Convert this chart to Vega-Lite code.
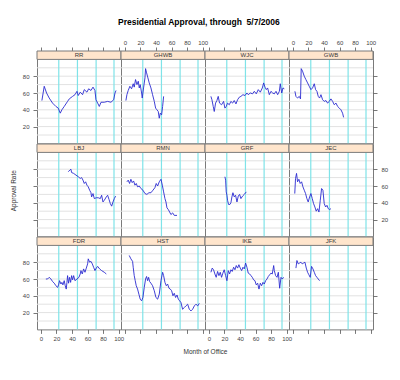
{
"$schema": "https://vega.github.io/schema/vega-lite/v6.json",
"background": "white",
"padding": {"left": 9, "top": 18, "right": 5, "bottom": 5},
"title": {"text": "Presidential Approval, through\u00a0 5/7/2006", "font": "Liberation Sans", "fontSize": 8.5, "fontWeight": "bold", "color": "#000", "anchor": "middle", "offset": 12},
"datasets": {
"hgrid": [{"g":10},{"g":20},{"g":30},{"g":40},{"g":50},{"g":60},{"g":70},{"g":80},{"g":90}],
"vgrid": [{"m":23},{"m":47},{"m":71},{"m":94}],
"approval": [
{"p":"RR","m":1.3,"v":51},{"p":"RR","m":4.3,"v":68},{"p":"RR","m":7.3,"v":60},{"p":"RR","m":10.7,"v":54},{"p":"RR","m":15,"v":48},{"p":"RR","m":19.3,"v":44},{"p":"RR","m":22.3,"v":42},{"p":"RR","m":24.9,"v":36},{"p":"RR","m":27,"v":40},{"p":"RR","m":30,"v":44},{"p":"RR","m":34.3,"v":50},{"p":"RR","m":36.5,"v":53},{"p":"RR","m":40.8,"v":56},{"p":"RR","m":43.8,"v":58},{"p":"RR","m":46.4,"v":62},{"p":"RR","m":48,"v":57},{"p":"RR","m":50.6,"v":61},{"p":"RR","m":53.6,"v":58},{"p":"RR","m":55.8,"v":64},{"p":"RR","m":59.2,"v":61},{"p":"RR","m":61.4,"v":65},{"p":"RR","m":64.4,"v":63},{"p":"RR","m":67,"v":67},{"p":"RR","m":69.5,"v":63},{"p":"RR","m":70.8,"v":52},{"p":"RR","m":73,"v":48},{"p":"RR","m":75.1,"v":44},{"p":"RR","m":77.3,"v":49},{"p":"RR","m":81.5,"v":49},{"p":"RR","m":85.8,"v":50},{"p":"RR","m":90.1,"v":49},{"p":"RR","m":93.6,"v":52},{"p":"RR","m":95.3,"v":60},{"p":"RR","m":96.6,"v":63},
{"p":"GHWB","m":1.3,"v":51},{"p":"GHWB","m":2.6,"v":58},{"p":"GHWB","m":4.3,"v":63},{"p":"GHWB","m":6.4,"v":68},{"p":"GHWB","m":8.6,"v":65},{"p":"GHWB","m":10.7,"v":71},{"p":"GHWB","m":12,"v":67},{"p":"GHWB","m":13.7,"v":76},{"p":"GHWB","m":15.5,"v":70},{"p":"GHWB","m":17.2,"v":74},{"p":"GHWB","m":18.5,"v":66},{"p":"GHWB","m":19.7,"v":70},{"p":"GHWB","m":21.5,"v":60},{"p":"GHWB","m":22.3,"v":54},{"p":"GHWB","m":24,"v":66},{"p":"GHWB","m":25.8,"v":78},{"p":"GHWB","m":26.6,"v":89},{"p":"GHWB","m":27.9,"v":84},{"p":"GHWB","m":29.6,"v":78},{"p":"GHWB","m":31.3,"v":72},{"p":"GHWB","m":33.5,"v":66},{"p":"GHWB","m":35.6,"v":58},{"p":"GHWB","m":37.8,"v":50},{"p":"GHWB","m":39.5,"v":42},{"p":"GHWB","m":41.2,"v":40},{"p":"GHWB","m":42.9,"v":38},{"p":"GHWB","m":44.2,"v":30},{"p":"GHWB","m":45.5,"v":36},{"p":"GHWB","m":47.2,"v":34},{"p":"GHWB","m":48.5,"v":44},{"p":"GHWB","m":49.8,"v":56},
{"p":"WJC","m":2.6,"v":56},{"p":"WJC","m":3.9,"v":52},{"p":"WJC","m":5.6,"v":44},{"p":"WJC","m":6.9,"v":38},{"p":"WJC","m":8.6,"v":48},{"p":"WJC","m":10.3,"v":51},{"p":"WJC","m":12,"v":56},{"p":"WJC","m":13.7,"v":48},{"p":"WJC","m":16.3,"v":46},{"p":"WJC","m":18.9,"v":50},{"p":"WJC","m":20.6,"v":42},{"p":"WJC","m":22.3,"v":44},{"p":"WJC","m":24,"v":48},{"p":"WJC","m":26.2,"v":46},{"p":"WJC","m":28.3,"v":50},{"p":"WJC","m":30.5,"v":48},{"p":"WJC","m":32.6,"v":51},{"p":"WJC","m":34.8,"v":47},{"p":"WJC","m":36.9,"v":52},{"p":"WJC","m":39.1,"v":55},{"p":"WJC","m":41.2,"v":56},{"p":"WJC","m":43.8,"v":58},{"p":"WJC","m":46.4,"v":57},{"p":"WJC","m":48.9,"v":60},{"p":"WJC","m":50.6,"v":58},{"p":"WJC","m":53.2,"v":60},{"p":"WJC","m":56.2,"v":59},{"p":"WJC","m":58.4,"v":62},{"p":"WJC","m":60.9,"v":59},{"p":"WJC","m":63.5,"v":64},{"p":"WJC","m":66.1,"v":61},{"p":"WJC","m":68.7,"v":66},{"p":"WJC","m":70.4,"v":72},{"p":"WJC","m":72.1,"v":67},{"p":"WJC","m":73.8,"v":64},{"p":"WJC","m":75.5,"v":66},{"p":"WJC","m":77.7,"v":58},{"p":"WJC","m":79.8,"v":62},{"p":"WJC","m":82,"v":60},{"p":"WJC","m":84.1,"v":59},{"p":"WJC","m":86.3,"v":62},{"p":"WJC","m":88.4,"v":58},{"p":"WJC","m":90.6,"v":62},{"p":"WJC","m":91.8,"v":71},{"p":"WJC","m":93.6,"v":60},{"p":"WJC","m":95.3,"v":66},{"p":"WJC","m":97,"v":65},
{"p":"GWB","m":2.6,"v":62},{"p":"GWB","m":3.9,"v":56},{"p":"GWB","m":6,"v":54},{"p":"GWB","m":8.2,"v":56},{"p":"GWB","m":9.8,"v":53},{"p":"GWB","m":10.7,"v":89},{"p":"GWB","m":12.4,"v":86},{"p":"GWB","m":14.6,"v":80},{"p":"GWB","m":16.7,"v":76},{"p":"GWB","m":18.9,"v":72},{"p":"GWB","m":21,"v":68},{"p":"GWB","m":23.2,"v":64},{"p":"GWB","m":25.3,"v":66},{"p":"GWB","m":27.5,"v":71},{"p":"GWB","m":29.2,"v":64},{"p":"GWB","m":30.9,"v":62},{"p":"GWB","m":32.6,"v":56},{"p":"GWB","m":34.3,"v":54},{"p":"GWB","m":36.1,"v":58},{"p":"GWB","m":38.2,"v":52},{"p":"GWB","m":40.3,"v":50},{"p":"GWB","m":42.5,"v":51},{"p":"GWB","m":44.6,"v":48},{"p":"GWB","m":46.8,"v":50},{"p":"GWB","m":48.9,"v":53},{"p":"GWB","m":51.1,"v":50},{"p":"GWB","m":53.2,"v":46},{"p":"GWB","m":55.4,"v":48},{"p":"GWB","m":57.5,"v":44},{"p":"GWB","m":59.7,"v":42},{"p":"GWB","m":61.8,"v":40},{"p":"GWB","m":63.9,"v":36},{"p":"GWB","m":65.2,"v":31},
{"p":"LBJ","m":35.2,"v":77},{"p":"LBJ","m":37.3,"v":79},{"p":"LBJ","m":38.6,"v":80},{"p":"LBJ","m":39.5,"v":76},{"p":"LBJ","m":42.1,"v":75},{"p":"LBJ","m":45.1,"v":73},{"p":"LBJ","m":48.1,"v":71},{"p":"LBJ","m":50.6,"v":69},{"p":"LBJ","m":52.4,"v":70},{"p":"LBJ","m":54.1,"v":67},{"p":"LBJ","m":55.8,"v":63},{"p":"LBJ","m":57.5,"v":65},{"p":"LBJ","m":59.2,"v":61},{"p":"LBJ","m":60.9,"v":59},{"p":"LBJ","m":62.7,"v":55},{"p":"LBJ","m":64.4,"v":52},{"p":"LBJ","m":65.2,"v":47},{"p":"LBJ","m":67,"v":51},{"p":"LBJ","m":68.7,"v":45},{"p":"LBJ","m":71.2,"v":46},{"p":"LBJ","m":73.8,"v":46},{"p":"LBJ","m":76.4,"v":45},{"p":"LBJ","m":78.1,"v":49},{"p":"LBJ","m":79.8,"v":41},{"p":"LBJ","m":81.5,"v":43},{"p":"LBJ","m":84.1,"v":47},{"p":"LBJ","m":85.8,"v":49},{"p":"LBJ","m":87.6,"v":44},{"p":"LBJ","m":89.3,"v":39},{"p":"LBJ","m":91,"v":36},{"p":"LBJ","m":92.7,"v":41},{"p":"LBJ","m":94.4,"v":45},{"p":"LBJ","m":96.1,"v":48},
{"p":"RMN","m":2.6,"v":65},{"p":"RMN","m":4.3,"v":67},{"p":"RMN","m":6,"v":63},{"p":"RMN","m":7.7,"v":68},{"p":"RMN","m":9.4,"v":64},{"p":"RMN","m":11.2,"v":66},{"p":"RMN","m":12.9,"v":61},{"p":"RMN","m":14.6,"v":63},{"p":"RMN","m":16.3,"v":59},{"p":"RMN","m":18.5,"v":60},{"p":"RMN","m":20.6,"v":57},{"p":"RMN","m":23.2,"v":55},{"p":"RMN","m":25.8,"v":51},{"p":"RMN","m":28.3,"v":50},{"p":"RMN","m":30.9,"v":52},{"p":"RMN","m":33.5,"v":52},{"p":"RMN","m":36.1,"v":55},{"p":"RMN","m":38.6,"v":58},{"p":"RMN","m":40.3,"v":63},{"p":"RMN","m":42.1,"v":60},{"p":"RMN","m":44.2,"v":65},{"p":"RMN","m":46.4,"v":68},{"p":"RMN","m":48.1,"v":61},{"p":"RMN","m":49.8,"v":53},{"p":"RMN","m":51.5,"v":45},{"p":"RMN","m":52.8,"v":41},{"p":"RMN","m":54.1,"v":34},{"p":"RMN","m":55.8,"v":32},{"p":"RMN","m":57.5,"v":29},{"p":"RMN","m":59.2,"v":26},{"p":"RMN","m":61.4,"v":28},{"p":"RMN","m":63.5,"v":25},{"p":"RMN","m":67,"v":25},
{"p":"GRF","m":20.6,"v":71},{"p":"GRF","m":21.5,"v":67},{"p":"GRF","m":22.3,"v":53},{"p":"GRF","m":23.2,"v":49},{"p":"GRF","m":24,"v":43},{"p":"GRF","m":25.3,"v":38},{"p":"GRF","m":27,"v":38},{"p":"GRF","m":28.3,"v":40},{"p":"GRF","m":29.6,"v":47},{"p":"GRF","m":30.9,"v":52},{"p":"GRF","m":32.6,"v":47},{"p":"GRF","m":34.3,"v":49},{"p":"GRF","m":36.1,"v":41},{"p":"GRF","m":37.8,"v":48},{"p":"GRF","m":39.5,"v":50},{"p":"GRF","m":41.2,"v":45},{"p":"GRF","m":43.3,"v":48},{"p":"GRF","m":45.5,"v":50},{"p":"GRF","m":48.1,"v":53},
{"p":"JEC","m":2.4,"v":51},{"p":"JEC","m":3.4,"v":69},{"p":"JEC","m":4.7,"v":75},{"p":"JEC","m":6,"v":65},{"p":"JEC","m":7.7,"v":68},{"p":"JEC","m":9.4,"v":63},{"p":"JEC","m":11.2,"v":65},{"p":"JEC","m":12.9,"v":59},{"p":"JEC","m":14.6,"v":55},{"p":"JEC","m":16.3,"v":51},{"p":"JEC","m":18,"v":45},{"p":"JEC","m":19.7,"v":41},{"p":"JEC","m":21.5,"v":47},{"p":"JEC","m":23.2,"v":51},{"p":"JEC","m":24.9,"v":45},{"p":"JEC","m":26.6,"v":39},{"p":"JEC","m":28.3,"v":35},{"p":"JEC","m":30,"v":30},{"p":"JEC","m":31.8,"v":33},{"p":"JEC","m":33.5,"v":29},{"p":"JEC","m":35.2,"v":43},{"p":"JEC","m":36.9,"v":57},{"p":"JEC","m":38.6,"v":55},{"p":"JEC","m":40.3,"v":39},{"p":"JEC","m":42.1,"v":35},{"p":"JEC","m":43.8,"v":37},{"p":"JEC","m":45.5,"v":33},{"p":"JEC","m":47.2,"v":32},{"p":"JEC","m":48.9,"v":33},
{"p":"FDR","m":6.4,"v":60},{"p":"FDR","m":8.6,"v":60},{"p":"FDR","m":10.7,"v":62},{"p":"FDR","m":12.9,"v":60},{"p":"FDR","m":15,"v":57},{"p":"FDR","m":17.2,"v":55},{"p":"FDR","m":19.3,"v":52},{"p":"FDR","m":21.5,"v":50},{"p":"FDR","m":22.7,"v":53},{"p":"FDR","m":24,"v":58},{"p":"FDR","m":25.8,"v":54},{"p":"FDR","m":27,"v":56},{"p":"FDR","m":28.3,"v":53},{"p":"FDR","m":30,"v":58},{"p":"FDR","m":31.3,"v":52},{"p":"FDR","m":32.6,"v":48},{"p":"FDR","m":33.5,"v":56},{"p":"FDR","m":34.3,"v":64},{"p":"FDR","m":35.6,"v":55},{"p":"FDR","m":36.9,"v":62},{"p":"FDR","m":38.2,"v":56},{"p":"FDR","m":39.5,"v":64},{"p":"FDR","m":40.8,"v":59},{"p":"FDR","m":42.1,"v":64},{"p":"FDR","m":43.8,"v":58},{"p":"FDR","m":46.4,"v":60},{"p":"FDR","m":48.9,"v":62},{"p":"FDR","m":50.6,"v":66},{"p":"FDR","m":51.5,"v":70},{"p":"FDR","m":53.2,"v":66},{"p":"FDR","m":54.9,"v":72},{"p":"FDR","m":56.7,"v":68},{"p":"FDR","m":58.4,"v":73},{"p":"FDR","m":60.1,"v":78},{"p":"FDR","m":60.9,"v":84},{"p":"FDR","m":62.7,"v":80},{"p":"FDR","m":64.4,"v":81},{"p":"FDR","m":66.1,"v":78},{"p":"FDR","m":67.8,"v":74},{"p":"FDR","m":69.5,"v":70},{"p":"FDR","m":71.2,"v":73},{"p":"FDR","m":73,"v":75},{"p":"FDR","m":75.5,"v":72},{"p":"FDR","m":78.1,"v":70},{"p":"FDR","m":81.5,"v":68},{"p":"FDR","m":84.1,"v":66},
{"p":"HST","m":5.6,"v":88},{"p":"HST","m":7.7,"v":84},{"p":"HST","m":9.9,"v":81},{"p":"HST","m":10.7,"v":74},{"p":"HST","m":12,"v":64},{"p":"HST","m":13.3,"v":58},{"p":"HST","m":14.6,"v":52},{"p":"HST","m":16.3,"v":48},{"p":"HST","m":18,"v":42},{"p":"HST","m":19.7,"v":36},{"p":"HST","m":21.5,"v":34},{"p":"HST","m":23.2,"v":38},{"p":"HST","m":24.9,"v":50},{"p":"HST","m":26.6,"v":60},{"p":"HST","m":27.9,"v":63},{"p":"HST","m":29.2,"v":58},{"p":"HST","m":30.5,"v":62},{"p":"HST","m":31.8,"v":57},{"p":"HST","m":33.5,"v":55},{"p":"HST","m":35.6,"v":52},{"p":"HST","m":37.8,"v":46},{"p":"HST","m":39.9,"v":38},{"p":"HST","m":42.1,"v":36},{"p":"HST","m":44.2,"v":42},{"p":"HST","m":46.4,"v":58},{"p":"HST","m":48.5,"v":68},{"p":"HST","m":49.8,"v":64},{"p":"HST","m":51.5,"v":56},{"p":"HST","m":53.2,"v":52},{"p":"HST","m":54.9,"v":54},{"p":"HST","m":56.7,"v":49},{"p":"HST","m":58.4,"v":48},{"p":"HST","m":60.1,"v":46},{"p":"HST","m":61.8,"v":40},{"p":"HST","m":63.5,"v":43},{"p":"HST","m":65.2,"v":38},{"p":"HST","m":67,"v":41},{"p":"HST","m":68.7,"v":36},{"p":"HST","m":70.4,"v":34},{"p":"HST","m":72.1,"v":32},{"p":"HST","m":74.2,"v":24},{"p":"HST","m":76.4,"v":26},{"p":"HST","m":78.5,"v":28},{"p":"HST","m":80.7,"v":30},{"p":"HST","m":82.8,"v":24},{"p":"HST","m":85,"v":22},{"p":"HST","m":87.1,"v":24},{"p":"HST","m":89.3,"v":28},{"p":"HST","m":91.4,"v":30},{"p":"HST","m":93.6,"v":28},{"p":"HST","m":95.7,"v":31},
{"p":"IKE","m":2.6,"v":68},{"p":"IKE","m":4.3,"v":73},{"p":"IKE","m":6,"v":71},{"p":"IKE","m":7.7,"v":66},{"p":"IKE","m":9.4,"v":62},{"p":"IKE","m":11.2,"v":69},{"p":"IKE","m":12.9,"v":64},{"p":"IKE","m":14.6,"v":68},{"p":"IKE","m":16.3,"v":62},{"p":"IKE","m":18,"v":67},{"p":"IKE","m":19.7,"v":71},{"p":"IKE","m":21.5,"v":64},{"p":"IKE","m":23.2,"v":58},{"p":"IKE","m":24.9,"v":70},{"p":"IKE","m":26.6,"v":66},{"p":"IKE","m":28.3,"v":71},{"p":"IKE","m":30,"v":69},{"p":"IKE","m":31.8,"v":74},{"p":"IKE","m":33.5,"v":71},{"p":"IKE","m":35.2,"v":76},{"p":"IKE","m":36.9,"v":73},{"p":"IKE","m":38.6,"v":77},{"p":"IKE","m":40.3,"v":73},{"p":"IKE","m":42.1,"v":70},{"p":"IKE","m":43.8,"v":74},{"p":"IKE","m":45.5,"v":72},{"p":"IKE","m":47.2,"v":79},{"p":"IKE","m":48.9,"v":74},{"p":"IKE","m":50.6,"v":67},{"p":"IKE","m":52.4,"v":66},{"p":"IKE","m":54.1,"v":64},{"p":"IKE","m":55.8,"v":62},{"p":"IKE","m":57.5,"v":59},{"p":"IKE","m":59.2,"v":58},{"p":"IKE","m":60.9,"v":53},{"p":"IKE","m":62.7,"v":55},{"p":"IKE","m":64.4,"v":48},{"p":"IKE","m":66.1,"v":55},{"p":"IKE","m":67.8,"v":52},{"p":"IKE","m":69.5,"v":56},{"p":"IKE","m":71.2,"v":54},{"p":"IKE","m":73,"v":58},{"p":"IKE","m":74.7,"v":60},{"p":"IKE","m":76.4,"v":63},{"p":"IKE","m":78.1,"v":65},{"p":"IKE","m":79.8,"v":67},{"p":"IKE","m":81.5,"v":66},{"p":"IKE","m":83.3,"v":76},{"p":"IKE","m":84.1,"v":70},{"p":"IKE","m":85.8,"v":64},{"p":"IKE","m":87.6,"v":62},{"p":"IKE","m":89.3,"v":68},{"p":"IKE","m":91,"v":49},{"p":"IKE","m":92.7,"v":62},{"p":"IKE","m":94.4,"v":60},{"p":"IKE","m":96.1,"v":62},
{"p":"JFK","m":3.9,"v":73},{"p":"JFK","m":5.2,"v":82},{"p":"JFK","m":6.9,"v":78},{"p":"JFK","m":8.6,"v":79},{"p":"JFK","m":10.3,"v":80},{"p":"JFK","m":12,"v":78},{"p":"JFK","m":13.7,"v":79},{"p":"JFK","m":15.5,"v":80},{"p":"JFK","m":17.2,"v":73},{"p":"JFK","m":18.9,"v":68},{"p":"JFK","m":20.6,"v":65},{"p":"JFK","m":22.3,"v":62},{"p":"JFK","m":24,"v":75},{"p":"JFK","m":25.8,"v":72},{"p":"JFK","m":27.5,"v":68},{"p":"JFK","m":29.2,"v":64},{"p":"JFK","m":30.9,"v":62},{"p":"JFK","m":32.6,"v":60},{"p":"JFK","m":34.3,"v":58}
]
},
"columns": 4,
"spacing": 0,
"bounds": "flush",
"concat": [
{"width":84,"height":92.4,"resolve":{"axis":{"x":"independent","y":"independent"}},"layer":[
{"data":{"name":"hgrid"},"mark":{"type":"rule","color":"#e2e2e2","strokeWidth":1},"encoding":{"x":{"datum":-5,"type":"quantitative","scale":{"domain":[-5,103],"nice":false,"zero":false},"axis":null},"x2":{"datum":103},"y":{"field":"g","type":"quantitative","scale":{"domain":[0,110],"nice":false,"zero":false},"axis":null}}},
{"data":{"name":"vgrid"},"mark":{"type":"rule","color":"#7fe3e8","strokeWidth":1.2},"encoding":{"x":{"field":"m","type":"quantitative","scale":{"domain":[-5,103],"nice":false,"zero":false},"axis":null},"y":{"datum":0,"type":"quantitative","scale":{"domain":[0,110],"nice":false,"zero":false},"axis":null},"y2":{"datum":100}}},
{"data":{"name":"approval"},"transform":[{"filter":"datum.p==='RR'"}],"mark":{"type":"line","color":"#2a2ad0","strokeWidth":0.9},"encoding":{"x":{"field":"m","type":"quantitative","scale":{"domain":[-5,103],"nice":false,"zero":false},"axis":{"orient":"top","values":[0,20,40,60,80,100],"labels":false,"title":null}},"y":{"field":"v","type":"quantitative","scale":{"domain":[0,110],"nice":false,"zero":false},"axis":{"orient":"left","values":[20,40,60,80],"labels":true,"title":null}}}},
{"data":{"values":[{"p":"RR"}]},"mark":{"type":"rect","fill":"#ffe5cc","stroke":"#7a7a7a","strokeWidth":1},"encoding":{"x":{"datum":-5,"type":"quantitative","scale":{"domain":[-5,103],"nice":false,"zero":false},"axis":null},"x2":{"datum":103},"y":{"datum":100,"type":"quantitative","scale":{"domain":[0,110],"nice":false,"zero":false},"axis":null},"y2":{"datum":110}}},
{"data":{"values":[{"p":"RR"}]},"mark":{"type":"text","font":"Liberation Sans","fontSize":6,"color":"#3a3a3a","baseline":"middle"},"encoding":{"x":{"datum":49,"type":"quantitative","scale":{"domain":[-5,103],"nice":false,"zero":false},"axis":null},"y":{"datum":105,"type":"quantitative","scale":{"domain":[0,110],"nice":false,"zero":false},"axis":null},"text":{"field":"p"}}}
]},
{"width":84,"height":92.4,"resolve":{"axis":{"x":"independent","y":"independent"}},"layer":[
{"data":{"name":"hgrid"},"mark":{"type":"rule","color":"#e2e2e2","strokeWidth":1},"encoding":{"x":{"datum":-5,"type":"quantitative","scale":{"domain":[-5,103],"nice":false,"zero":false},"axis":null},"x2":{"datum":103},"y":{"field":"g","type":"quantitative","scale":{"domain":[0,110],"nice":false,"zero":false},"axis":null}}},
{"data":{"name":"vgrid"},"mark":{"type":"rule","color":"#7fe3e8","strokeWidth":1.2},"encoding":{"x":{"field":"m","type":"quantitative","scale":{"domain":[-5,103],"nice":false,"zero":false},"axis":null},"y":{"datum":0,"type":"quantitative","scale":{"domain":[0,110],"nice":false,"zero":false},"axis":null},"y2":{"datum":100}}},
{"data":{"name":"approval"},"transform":[{"filter":"datum.p==='GHWB'"}],"mark":{"type":"line","color":"#2a2ad0","strokeWidth":0.9},"encoding":{"x":{"field":"m","type":"quantitative","scale":{"domain":[-5,103],"nice":false,"zero":false},"axis":{"orient":"top","values":[0,20,40,60,80,100],"labels":true,"title":null}},"y":{"field":"v","type":"quantitative","scale":{"domain":[0,110],"nice":false,"zero":false},"axis":null}}},
{"data":{"values":[{"p":"GHWB"}]},"mark":{"type":"rect","fill":"#ffe5cc","stroke":"#7a7a7a","strokeWidth":1},"encoding":{"x":{"datum":-5,"type":"quantitative","scale":{"domain":[-5,103],"nice":false,"zero":false},"axis":null},"x2":{"datum":103},"y":{"datum":100,"type":"quantitative","scale":{"domain":[0,110],"nice":false,"zero":false},"axis":null},"y2":{"datum":110}}},
{"data":{"values":[{"p":"GHWB"}]},"mark":{"type":"text","font":"Liberation Sans","fontSize":6,"color":"#3a3a3a","baseline":"middle"},"encoding":{"x":{"datum":49,"type":"quantitative","scale":{"domain":[-5,103],"nice":false,"zero":false},"axis":null},"y":{"datum":105,"type":"quantitative","scale":{"domain":[0,110],"nice":false,"zero":false},"axis":null},"text":{"field":"p"}}}
]},
{"width":84,"height":92.4,"resolve":{"axis":{"x":"independent","y":"independent"}},"layer":[
{"data":{"name":"hgrid"},"mark":{"type":"rule","color":"#e2e2e2","strokeWidth":1},"encoding":{"x":{"datum":-5,"type":"quantitative","scale":{"domain":[-5,103],"nice":false,"zero":false},"axis":null},"x2":{"datum":103},"y":{"field":"g","type":"quantitative","scale":{"domain":[0,110],"nice":false,"zero":false},"axis":null}}},
{"data":{"name":"vgrid"},"mark":{"type":"rule","color":"#7fe3e8","strokeWidth":1.2},"encoding":{"x":{"field":"m","type":"quantitative","scale":{"domain":[-5,103],"nice":false,"zero":false},"axis":null},"y":{"datum":0,"type":"quantitative","scale":{"domain":[0,110],"nice":false,"zero":false},"axis":null},"y2":{"datum":100}}},
{"data":{"name":"approval"},"transform":[{"filter":"datum.p==='WJC'"}],"mark":{"type":"line","color":"#2a2ad0","strokeWidth":0.9},"encoding":{"x":{"field":"m","type":"quantitative","scale":{"domain":[-5,103],"nice":false,"zero":false},"axis":{"orient":"top","values":[0,20,40,60,80,100],"labels":false,"title":null}},"y":{"field":"v","type":"quantitative","scale":{"domain":[0,110],"nice":false,"zero":false},"axis":null}}},
{"data":{"values":[{"p":"WJC"}]},"mark":{"type":"rect","fill":"#ffe5cc","stroke":"#7a7a7a","strokeWidth":1},"encoding":{"x":{"datum":-5,"type":"quantitative","scale":{"domain":[-5,103],"nice":false,"zero":false},"axis":null},"x2":{"datum":103},"y":{"datum":100,"type":"quantitative","scale":{"domain":[0,110],"nice":false,"zero":false},"axis":null},"y2":{"datum":110}}},
{"data":{"values":[{"p":"WJC"}]},"mark":{"type":"text","font":"Liberation Sans","fontSize":6,"color":"#3a3a3a","baseline":"middle"},"encoding":{"x":{"datum":49,"type":"quantitative","scale":{"domain":[-5,103],"nice":false,"zero":false},"axis":null},"y":{"datum":105,"type":"quantitative","scale":{"domain":[0,110],"nice":false,"zero":false},"axis":null},"text":{"field":"p"}}}
]},
{"width":84,"height":92.4,"resolve":{"axis":{"x":"independent","y":"independent"}},"layer":[
{"data":{"name":"hgrid"},"mark":{"type":"rule","color":"#e2e2e2","strokeWidth":1},"encoding":{"x":{"datum":-5,"type":"quantitative","scale":{"domain":[-5,103],"nice":false,"zero":false},"axis":null},"x2":{"datum":103},"y":{"field":"g","type":"quantitative","scale":{"domain":[0,110],"nice":false,"zero":false},"axis":null}}},
{"data":{"name":"vgrid"},"mark":{"type":"rule","color":"#7fe3e8","strokeWidth":1.2},"encoding":{"x":{"field":"m","type":"quantitative","scale":{"domain":[-5,103],"nice":false,"zero":false},"axis":null},"y":{"datum":0,"type":"quantitative","scale":{"domain":[0,110],"nice":false,"zero":false},"axis":null},"y2":{"datum":100}}},
{"data":{"name":"approval"},"transform":[{"filter":"datum.p==='GWB'"}],"mark":{"type":"line","color":"#2a2ad0","strokeWidth":0.9},"encoding":{"x":{"field":"m","type":"quantitative","scale":{"domain":[-5,103],"nice":false,"zero":false},"axis":{"orient":"top","values":[0,20,40,60,80,100],"labels":true,"title":null}},"y":{"field":"v","type":"quantitative","scale":{"domain":[0,110],"nice":false,"zero":false},"axis":{"orient":"right","values":[20,40,60,80],"labels":false,"title":null}}}},
{"data":{"values":[{"p":"GWB"}]},"mark":{"type":"rect","fill":"#ffe5cc","stroke":"#7a7a7a","strokeWidth":1},"encoding":{"x":{"datum":-5,"type":"quantitative","scale":{"domain":[-5,103],"nice":false,"zero":false},"axis":null},"x2":{"datum":103},"y":{"datum":100,"type":"quantitative","scale":{"domain":[0,110],"nice":false,"zero":false},"axis":null},"y2":{"datum":110}}},
{"data":{"values":[{"p":"GWB"}]},"mark":{"type":"text","font":"Liberation Sans","fontSize":6,"color":"#3a3a3a","baseline":"middle"},"encoding":{"x":{"datum":49,"type":"quantitative","scale":{"domain":[-5,103],"nice":false,"zero":false},"axis":null},"y":{"datum":105,"type":"quantitative","scale":{"domain":[0,110],"nice":false,"zero":false},"axis":null},"text":{"field":"p"}}}
]},
{"width":84,"height":92.4,"resolve":{"axis":{"x":"independent","y":"independent"}},"layer":[
{"data":{"name":"hgrid"},"mark":{"type":"rule","color":"#e2e2e2","strokeWidth":1},"encoding":{"x":{"datum":-5,"type":"quantitative","scale":{"domain":[-5,103],"nice":false,"zero":false},"axis":null},"x2":{"datum":103},"y":{"field":"g","type":"quantitative","scale":{"domain":[0,110],"nice":false,"zero":false},"axis":null}}},
{"data":{"name":"vgrid"},"mark":{"type":"rule","color":"#7fe3e8","strokeWidth":1.2},"encoding":{"x":{"field":"m","type":"quantitative","scale":{"domain":[-5,103],"nice":false,"zero":false},"axis":null},"y":{"datum":0,"type":"quantitative","scale":{"domain":[0,110],"nice":false,"zero":false},"axis":null},"y2":{"datum":100}}},
{"data":{"name":"approval"},"transform":[{"filter":"datum.p==='LBJ'"}],"mark":{"type":"line","color":"#2a2ad0","strokeWidth":0.9},"encoding":{"x":{"field":"m","type":"quantitative","scale":{"domain":[-5,103],"nice":false,"zero":false},"axis":null},"y":{"field":"v","type":"quantitative","scale":{"domain":[0,110],"nice":false,"zero":false},"axis":{"orient":"left","values":[20,40,60,80],"labels":false,"title":"Approval Rate","titleX":-24,"titleBaseline":"middle","titleAngle":-90}}}},
{"data":{"values":[{"p":"LBJ"}]},"mark":{"type":"rect","fill":"#ffe5cc","stroke":"#7a7a7a","strokeWidth":1},"encoding":{"x":{"datum":-5,"type":"quantitative","scale":{"domain":[-5,103],"nice":false,"zero":false},"axis":null},"x2":{"datum":103},"y":{"datum":100,"type":"quantitative","scale":{"domain":[0,110],"nice":false,"zero":false},"axis":null},"y2":{"datum":110}}},
{"data":{"values":[{"p":"LBJ"}]},"mark":{"type":"text","font":"Liberation Sans","fontSize":6,"color":"#3a3a3a","baseline":"middle"},"encoding":{"x":{"datum":49,"type":"quantitative","scale":{"domain":[-5,103],"nice":false,"zero":false},"axis":null},"y":{"datum":105,"type":"quantitative","scale":{"domain":[0,110],"nice":false,"zero":false},"axis":null},"text":{"field":"p"}}}
]},
{"width":84,"height":92.4,"resolve":{"axis":{"x":"independent","y":"independent"}},"layer":[
{"data":{"name":"hgrid"},"mark":{"type":"rule","color":"#e2e2e2","strokeWidth":1},"encoding":{"x":{"datum":-5,"type":"quantitative","scale":{"domain":[-5,103],"nice":false,"zero":false},"axis":null},"x2":{"datum":103},"y":{"field":"g","type":"quantitative","scale":{"domain":[0,110],"nice":false,"zero":false},"axis":null}}},
{"data":{"name":"vgrid"},"mark":{"type":"rule","color":"#7fe3e8","strokeWidth":1.2},"encoding":{"x":{"field":"m","type":"quantitative","scale":{"domain":[-5,103],"nice":false,"zero":false},"axis":null},"y":{"datum":0,"type":"quantitative","scale":{"domain":[0,110],"nice":false,"zero":false},"axis":null},"y2":{"datum":100}}},
{"data":{"name":"approval"},"transform":[{"filter":"datum.p==='RMN'"}],"mark":{"type":"line","color":"#2a2ad0","strokeWidth":0.9},"encoding":{"x":{"field":"m","type":"quantitative","scale":{"domain":[-5,103],"nice":false,"zero":false},"axis":null},"y":{"field":"v","type":"quantitative","scale":{"domain":[0,110],"nice":false,"zero":false},"axis":null}}},
{"data":{"values":[{"p":"RMN"}]},"mark":{"type":"rect","fill":"#ffe5cc","stroke":"#7a7a7a","strokeWidth":1},"encoding":{"x":{"datum":-5,"type":"quantitative","scale":{"domain":[-5,103],"nice":false,"zero":false},"axis":null},"x2":{"datum":103},"y":{"datum":100,"type":"quantitative","scale":{"domain":[0,110],"nice":false,"zero":false},"axis":null},"y2":{"datum":110}}},
{"data":{"values":[{"p":"RMN"}]},"mark":{"type":"text","font":"Liberation Sans","fontSize":6,"color":"#3a3a3a","baseline":"middle"},"encoding":{"x":{"datum":49,"type":"quantitative","scale":{"domain":[-5,103],"nice":false,"zero":false},"axis":null},"y":{"datum":105,"type":"quantitative","scale":{"domain":[0,110],"nice":false,"zero":false},"axis":null},"text":{"field":"p"}}}
]},
{"width":84,"height":92.4,"resolve":{"axis":{"x":"independent","y":"independent"}},"layer":[
{"data":{"name":"hgrid"},"mark":{"type":"rule","color":"#e2e2e2","strokeWidth":1},"encoding":{"x":{"datum":-5,"type":"quantitative","scale":{"domain":[-5,103],"nice":false,"zero":false},"axis":null},"x2":{"datum":103},"y":{"field":"g","type":"quantitative","scale":{"domain":[0,110],"nice":false,"zero":false},"axis":null}}},
{"data":{"name":"vgrid"},"mark":{"type":"rule","color":"#7fe3e8","strokeWidth":1.2},"encoding":{"x":{"field":"m","type":"quantitative","scale":{"domain":[-5,103],"nice":false,"zero":false},"axis":null},"y":{"datum":0,"type":"quantitative","scale":{"domain":[0,110],"nice":false,"zero":false},"axis":null},"y2":{"datum":100}}},
{"data":{"name":"approval"},"transform":[{"filter":"datum.p==='GRF'"}],"mark":{"type":"line","color":"#2a2ad0","strokeWidth":0.9},"encoding":{"x":{"field":"m","type":"quantitative","scale":{"domain":[-5,103],"nice":false,"zero":false},"axis":null},"y":{"field":"v","type":"quantitative","scale":{"domain":[0,110],"nice":false,"zero":false},"axis":null}}},
{"data":{"values":[{"p":"GRF"}]},"mark":{"type":"rect","fill":"#ffe5cc","stroke":"#7a7a7a","strokeWidth":1},"encoding":{"x":{"datum":-5,"type":"quantitative","scale":{"domain":[-5,103],"nice":false,"zero":false},"axis":null},"x2":{"datum":103},"y":{"datum":100,"type":"quantitative","scale":{"domain":[0,110],"nice":false,"zero":false},"axis":null},"y2":{"datum":110}}},
{"data":{"values":[{"p":"GRF"}]},"mark":{"type":"text","font":"Liberation Sans","fontSize":6,"color":"#3a3a3a","baseline":"middle"},"encoding":{"x":{"datum":49,"type":"quantitative","scale":{"domain":[-5,103],"nice":false,"zero":false},"axis":null},"y":{"datum":105,"type":"quantitative","scale":{"domain":[0,110],"nice":false,"zero":false},"axis":null},"text":{"field":"p"}}}
]},
{"width":84,"height":92.4,"resolve":{"axis":{"x":"independent","y":"independent"}},"layer":[
{"data":{"name":"hgrid"},"mark":{"type":"rule","color":"#e2e2e2","strokeWidth":1},"encoding":{"x":{"datum":-5,"type":"quantitative","scale":{"domain":[-5,103],"nice":false,"zero":false},"axis":null},"x2":{"datum":103},"y":{"field":"g","type":"quantitative","scale":{"domain":[0,110],"nice":false,"zero":false},"axis":null}}},
{"data":{"name":"vgrid"},"mark":{"type":"rule","color":"#7fe3e8","strokeWidth":1.2},"encoding":{"x":{"field":"m","type":"quantitative","scale":{"domain":[-5,103],"nice":false,"zero":false},"axis":null},"y":{"datum":0,"type":"quantitative","scale":{"domain":[0,110],"nice":false,"zero":false},"axis":null},"y2":{"datum":100}}},
{"data":{"name":"approval"},"transform":[{"filter":"datum.p==='JEC'"}],"mark":{"type":"line","color":"#2a2ad0","strokeWidth":0.9},"encoding":{"x":{"field":"m","type":"quantitative","scale":{"domain":[-5,103],"nice":false,"zero":false},"axis":null},"y":{"field":"v","type":"quantitative","scale":{"domain":[0,110],"nice":false,"zero":false},"axis":{"orient":"right","values":[20,40,60,80],"labels":true,"title":null}}}},
{"data":{"values":[{"p":"JEC"}]},"mark":{"type":"rect","fill":"#ffe5cc","stroke":"#7a7a7a","strokeWidth":1},"encoding":{"x":{"datum":-5,"type":"quantitative","scale":{"domain":[-5,103],"nice":false,"zero":false},"axis":null},"x2":{"datum":103},"y":{"datum":100,"type":"quantitative","scale":{"domain":[0,110],"nice":false,"zero":false},"axis":null},"y2":{"datum":110}}},
{"data":{"values":[{"p":"JEC"}]},"mark":{"type":"text","font":"Liberation Sans","fontSize":6,"color":"#3a3a3a","baseline":"middle"},"encoding":{"x":{"datum":49,"type":"quantitative","scale":{"domain":[-5,103],"nice":false,"zero":false},"axis":null},"y":{"datum":105,"type":"quantitative","scale":{"domain":[0,110],"nice":false,"zero":false},"axis":null},"text":{"field":"p"}}}
]},
{"width":84,"height":92.4,"resolve":{"axis":{"x":"independent","y":"independent"}},"layer":[
{"data":{"name":"hgrid"},"mark":{"type":"rule","color":"#e2e2e2","strokeWidth":1},"encoding":{"x":{"datum":-5,"type":"quantitative","scale":{"domain":[-5,103],"nice":false,"zero":false},"axis":null},"x2":{"datum":103},"y":{"field":"g","type":"quantitative","scale":{"domain":[0,110],"nice":false,"zero":false},"axis":null}}},
{"data":{"name":"vgrid"},"mark":{"type":"rule","color":"#7fe3e8","strokeWidth":1.2},"encoding":{"x":{"field":"m","type":"quantitative","scale":{"domain":[-5,103],"nice":false,"zero":false},"axis":null},"y":{"datum":0,"type":"quantitative","scale":{"domain":[0,110],"nice":false,"zero":false},"axis":null},"y2":{"datum":100}}},
{"data":{"name":"approval"},"transform":[{"filter":"datum.p==='FDR'"}],"mark":{"type":"line","color":"#2a2ad0","strokeWidth":0.9},"encoding":{"x":{"field":"m","type":"quantitative","scale":{"domain":[-5,103],"nice":false,"zero":false},"axis":{"orient":"bottom","values":[0,20,40,60,80,100],"labels":true,"title":null}},"y":{"field":"v","type":"quantitative","scale":{"domain":[0,110],"nice":false,"zero":false},"axis":{"orient":"left","values":[20,40,60,80],"labels":true,"title":null}}}},
{"data":{"values":[{"p":"FDR"}]},"mark":{"type":"rect","fill":"#ffe5cc","stroke":"#7a7a7a","strokeWidth":1},"encoding":{"x":{"datum":-5,"type":"quantitative","scale":{"domain":[-5,103],"nice":false,"zero":false},"axis":null},"x2":{"datum":103},"y":{"datum":100,"type":"quantitative","scale":{"domain":[0,110],"nice":false,"zero":false},"axis":null},"y2":{"datum":110}}},
{"data":{"values":[{"p":"FDR"}]},"mark":{"type":"text","font":"Liberation Sans","fontSize":6,"color":"#3a3a3a","baseline":"middle"},"encoding":{"x":{"datum":49,"type":"quantitative","scale":{"domain":[-5,103],"nice":false,"zero":false},"axis":null},"y":{"datum":105,"type":"quantitative","scale":{"domain":[0,110],"nice":false,"zero":false},"axis":null},"text":{"field":"p"}}}
]},
{"width":84,"height":92.4,"resolve":{"axis":{"x":"independent","y":"independent"}},"layer":[
{"data":{"name":"hgrid"},"mark":{"type":"rule","color":"#e2e2e2","strokeWidth":1},"encoding":{"x":{"datum":-5,"type":"quantitative","scale":{"domain":[-5,103],"nice":false,"zero":false},"axis":null},"x2":{"datum":103},"y":{"field":"g","type":"quantitative","scale":{"domain":[0,110],"nice":false,"zero":false},"axis":null}}},
{"data":{"name":"vgrid"},"mark":{"type":"rule","color":"#7fe3e8","strokeWidth":1.2},"encoding":{"x":{"field":"m","type":"quantitative","scale":{"domain":[-5,103],"nice":false,"zero":false},"axis":null},"y":{"datum":0,"type":"quantitative","scale":{"domain":[0,110],"nice":false,"zero":false},"axis":null},"y2":{"datum":100}}},
{"data":{"name":"approval"},"transform":[{"filter":"datum.p==='HST'"}],"mark":{"type":"line","color":"#2a2ad0","strokeWidth":0.9},"encoding":{"x":{"field":"m","type":"quantitative","scale":{"domain":[-5,103],"nice":false,"zero":false},"axis":{"orient":"bottom","values":[0,20,40,60,80,100],"labels":false,"title":"Month of Office","titleX":84,"titleY":22,"titleBaseline":"middle","titleAlign":"center"}},"y":{"field":"v","type":"quantitative","scale":{"domain":[0,110],"nice":false,"zero":false},"axis":null}}},
{"data":{"values":[{"p":"HST"}]},"mark":{"type":"rect","fill":"#ffe5cc","stroke":"#7a7a7a","strokeWidth":1},"encoding":{"x":{"datum":-5,"type":"quantitative","scale":{"domain":[-5,103],"nice":false,"zero":false},"axis":null},"x2":{"datum":103},"y":{"datum":100,"type":"quantitative","scale":{"domain":[0,110],"nice":false,"zero":false},"axis":null},"y2":{"datum":110}}},
{"data":{"values":[{"p":"HST"}]},"mark":{"type":"text","font":"Liberation Sans","fontSize":6,"color":"#3a3a3a","baseline":"middle"},"encoding":{"x":{"datum":49,"type":"quantitative","scale":{"domain":[-5,103],"nice":false,"zero":false},"axis":null},"y":{"datum":105,"type":"quantitative","scale":{"domain":[0,110],"nice":false,"zero":false},"axis":null},"text":{"field":"p"}}}
]},
{"width":84,"height":92.4,"resolve":{"axis":{"x":"independent","y":"independent"}},"layer":[
{"data":{"name":"hgrid"},"mark":{"type":"rule","color":"#e2e2e2","strokeWidth":1},"encoding":{"x":{"datum":-5,"type":"quantitative","scale":{"domain":[-5,103],"nice":false,"zero":false},"axis":null},"x2":{"datum":103},"y":{"field":"g","type":"quantitative","scale":{"domain":[0,110],"nice":false,"zero":false},"axis":null}}},
{"data":{"name":"vgrid"},"mark":{"type":"rule","color":"#7fe3e8","strokeWidth":1.2},"encoding":{"x":{"field":"m","type":"quantitative","scale":{"domain":[-5,103],"nice":false,"zero":false},"axis":null},"y":{"datum":0,"type":"quantitative","scale":{"domain":[0,110],"nice":false,"zero":false},"axis":null},"y2":{"datum":100}}},
{"data":{"name":"approval"},"transform":[{"filter":"datum.p==='IKE'"}],"mark":{"type":"line","color":"#2a2ad0","strokeWidth":0.9},"encoding":{"x":{"field":"m","type":"quantitative","scale":{"domain":[-5,103],"nice":false,"zero":false},"axis":{"orient":"bottom","values":[0,20,40,60,80,100],"labels":true,"title":null}},"y":{"field":"v","type":"quantitative","scale":{"domain":[0,110],"nice":false,"zero":false},"axis":null}}},
{"data":{"values":[{"p":"IKE"}]},"mark":{"type":"rect","fill":"#ffe5cc","stroke":"#7a7a7a","strokeWidth":1},"encoding":{"x":{"datum":-5,"type":"quantitative","scale":{"domain":[-5,103],"nice":false,"zero":false},"axis":null},"x2":{"datum":103},"y":{"datum":100,"type":"quantitative","scale":{"domain":[0,110],"nice":false,"zero":false},"axis":null},"y2":{"datum":110}}},
{"data":{"values":[{"p":"IKE"}]},"mark":{"type":"text","font":"Liberation Sans","fontSize":6,"color":"#3a3a3a","baseline":"middle"},"encoding":{"x":{"datum":49,"type":"quantitative","scale":{"domain":[-5,103],"nice":false,"zero":false},"axis":null},"y":{"datum":105,"type":"quantitative","scale":{"domain":[0,110],"nice":false,"zero":false},"axis":null},"text":{"field":"p"}}}
]},
{"width":84,"height":92.4,"resolve":{"axis":{"x":"independent","y":"independent"}},"layer":[
{"data":{"name":"hgrid"},"mark":{"type":"rule","color":"#e2e2e2","strokeWidth":1},"encoding":{"x":{"datum":-5,"type":"quantitative","scale":{"domain":[-5,103],"nice":false,"zero":false},"axis":null},"x2":{"datum":103},"y":{"field":"g","type":"quantitative","scale":{"domain":[0,110],"nice":false,"zero":false},"axis":null}}},
{"data":{"name":"vgrid"},"mark":{"type":"rule","color":"#7fe3e8","strokeWidth":1.2},"encoding":{"x":{"field":"m","type":"quantitative","scale":{"domain":[-5,103],"nice":false,"zero":false},"axis":null},"y":{"datum":0,"type":"quantitative","scale":{"domain":[0,110],"nice":false,"zero":false},"axis":null},"y2":{"datum":100}}},
{"data":{"name":"approval"},"transform":[{"filter":"datum.p==='JFK'"}],"mark":{"type":"line","color":"#2a2ad0","strokeWidth":0.9},"encoding":{"x":{"field":"m","type":"quantitative","scale":{"domain":[-5,103],"nice":false,"zero":false},"axis":{"orient":"bottom","values":[0,20,40,60,80,100],"labels":false,"title":null}},"y":{"field":"v","type":"quantitative","scale":{"domain":[0,110],"nice":false,"zero":false},"axis":{"orient":"right","values":[20,40,60,80],"labels":false,"title":null}}}},
{"data":{"values":[{"p":"JFK"}]},"mark":{"type":"rect","fill":"#ffe5cc","stroke":"#7a7a7a","strokeWidth":1},"encoding":{"x":{"datum":-5,"type":"quantitative","scale":{"domain":[-5,103],"nice":false,"zero":false},"axis":null},"x2":{"datum":103},"y":{"datum":100,"type":"quantitative","scale":{"domain":[0,110],"nice":false,"zero":false},"axis":null},"y2":{"datum":110}}},
{"data":{"values":[{"p":"JFK"}]},"mark":{"type":"text","font":"Liberation Sans","fontSize":6,"color":"#3a3a3a","baseline":"middle"},"encoding":{"x":{"datum":49,"type":"quantitative","scale":{"domain":[-5,103],"nice":false,"zero":false},"axis":null},"y":{"datum":105,"type":"quantitative","scale":{"domain":[0,110],"nice":false,"zero":false},"axis":null},"text":{"field":"p"}}}
]}
],
"config": {
"view": {"stroke": "#7a7a7a", "strokeWidth": 1, "fill": "white"},
"axis": {"domain": false, "grid": false, "ticks": true, "tickColor": "#555", "tickSize": 4, "tickWidth": 0.8, "labelFont": "Liberation Sans", "labelFontSize": 6, "labelColor": "#444", "labelFlush": false, "labelOverlap": false, "titleFont": "Liberation Sans", "titleFontSize": 6.5, "titleFontWeight": "normal", "titleColor": "#333"},
"axisX": {"labelPadding": 2},
"axisY": {"labelPadding": 4}
}
}
